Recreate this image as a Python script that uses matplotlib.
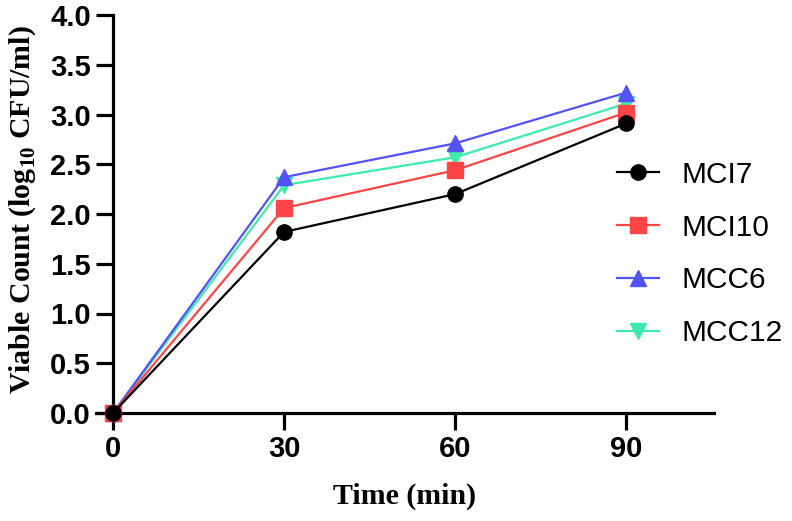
import numpy as np
import matplotlib
matplotlib.use("Agg")
import matplotlib.pyplot as plt

# data
time_min = [0, 30, 60, 90]
mci7 = [0.0, 1.82, 2.20, 2.91]
mci10 = [0.0, 2.06, 2.44, 3.02]
mcc6 = [0.0, 2.37, 2.71, 3.22]
mcc12 = [0.0, 2.29, 2.57, 3.11]

series_names = ['MCI7', 'MCI10', 'MCC6', 'MCC12']
series_vals = [mci7, mci10, mcc6, mcc12]
colors = ['#000000', '#FF4545', '#5353F5', '#3DEBAA']
markers = ['o', 's', '^', 'v']

plt.rcParams['mathtext.fontset'] = 'custom'
plt.rcParams['mathtext.bf'] = 'Liberation Serif:bold'
plt.rcParams['mathtext.rm'] = 'Liberation Serif:bold'

fig = plt.figure(figsize=(7.92, 5.21), dpi=100)
ax = fig.add_axes([96/792, 1-413/521, (714-96)/792, (413-15)/521])

# first series drawn on top, like the reference
for i, (name, vals, c, m) in enumerate(zip(series_names, series_vals, colors, markers)):
    ax.plot(time_min, vals, color=c, marker=m, markersize=11, lw=1.6,
            label=name, clip_on=False, zorder=10 - i)

ax.set_xlim(-3, 105.4)
ax.set_ylim(0, 4)
ax.set_xticks(time_min)
ax.set_yticks(np.arange(0, 4.01, 0.5))
ax.set_yticklabels(['%.1f' % v for v in np.arange(0, 4.01, 0.5)])

ax.spines['left'].set_position(('data', 0))
ax.spines['top'].set_visible(False)
ax.spines['right'].set_visible(False)
for s in ['left', 'bottom']:
    ax.spines[s].set_linewidth(2.3)
ax.tick_params(width=2.3, length=12, direction='out', pad=4,
               labelsize=21)
for lab in ax.get_xticklabels() + ax.get_yticklabels():
    lab.set_fontfamily('Liberation Sans')
    lab.set_fontweight('bold')

ax.set_xlabel('Time (min)', fontfamily='Liberation Serif', fontweight='bold',
              fontsize=21.5, labelpad=14)
fig.text(0.028, 1-210/521, r'Viable Count (log$_{\mathbf{10}}$ CFU/ml)',
         rotation=90, ha='center', va='center',
         fontfamily='Liberation Serif', fontweight='bold', fontsize=21.5)

leg = ax.legend(loc='center left', bbox_to_anchor=(590/792, 1-254/521),
                bbox_transform=fig.transFigure, frameon=False,
                prop={'family': 'Liberation Sans', 'size': 21.5},
                handlelength=1.4, labelspacing=0.83, handletextpad=0.77)

fig.savefig('out.png', dpi=100)
